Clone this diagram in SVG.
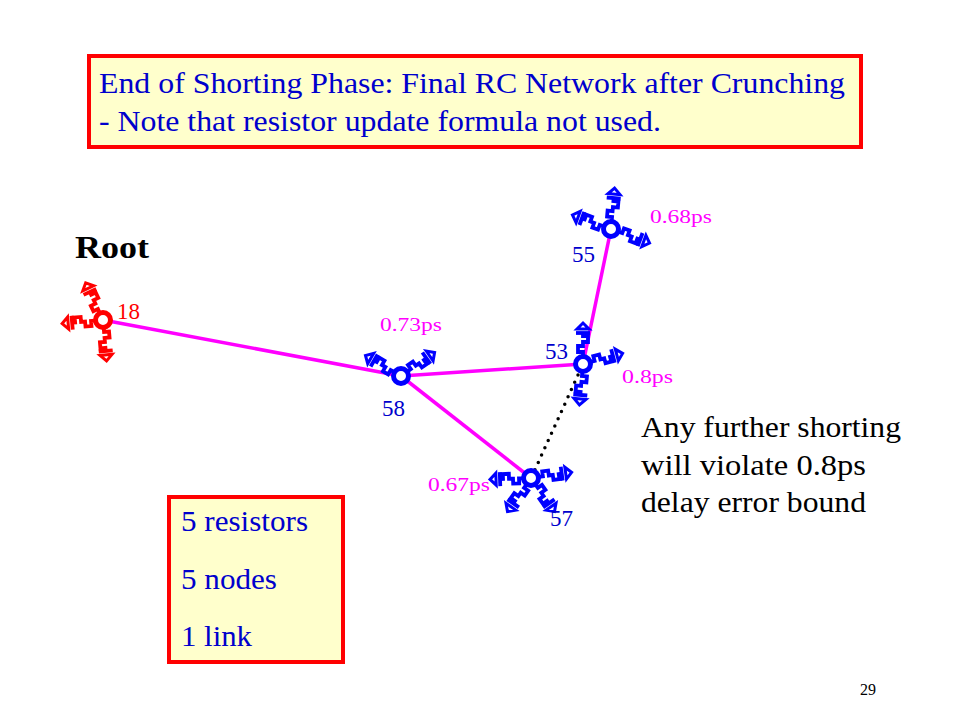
<svg xmlns="http://www.w3.org/2000/svg" xmlns:xlink="http://www.w3.org/1999/xlink" width="960" height="720" viewBox="0 0 960 720">
<style>
.box{fill:#ffffcc;stroke:#ff0000;stroke-width:4}
.bt{font-family:"Liberation Serif","Times New Roman",serif;font-size:30px;fill:#0000cc}
.bk{font-family:"Liberation Serif","Times New Roman",serif;font-size:30px;fill:#000}
.ps{font-family:"Liberation Serif","Times New Roman",serif;font-size:19px;fill:#ff00ff}
.nl{font-family:"Liberation Serif","Times New Roman",serif;font-size:23px;fill:#0000cc}
.edge{stroke:#ff00ff;stroke-width:3.5;fill:none}
.nc{fill:#fff;stroke-width:5}
</style>
<defs>
<g id="br" fill="none" stroke="currentColor" stroke-width="3.8" stroke-linejoin="miter">
<path d="M8,0 L12,0 L12,-5 L18,-5 L18,0 L22,0 L22,5 L28,5 L28,0 L31,0"/>
<line x1="31" y1="-7" x2="31" y2="7"/>
<path d="M35,-6 L35,6 L41,0 Z" stroke-width="3"/>
</g>
</defs>
<rect width="960" height="720" fill="#fff"/>
<g id="title">
<rect class="box" x="89" y="56" width="772" height="91"/>
<text class="bt" x="99" y="93" textLength="746" lengthAdjust="spacingAndGlyphs">End of Shorting Phase: Final RC Network after Crunching</text>
<text class="bt" x="99" y="131" textLength="562" lengthAdjust="spacingAndGlyphs">- Note that resistor update formula not used.</text>
</g>
<g id="connectors">
<line class="edge" x1="103" y1="320" x2="401" y2="376"/>
<line class="edge" x1="401" y1="376" x2="583" y2="364"/>
<line class="edge" x1="401" y1="376" x2="531" y2="478"/>
<line class="edge" x1="583" y1="364" x2="611" y2="229"/>
<line x1="578" y1="375" x2="533" y2="474" stroke="#000" stroke-width="3.5" stroke-linecap="round" stroke-dasharray="0 8"/>
</g>
<g id="root-label"><text x="75" y="258" font-family="Liberation Serif,serif" font-size="32" font-weight="bold" fill="#000" textLength="74" lengthAdjust="spacingAndGlyphs">Root</text></g>
<g id="n18" style="color:#ff0000">
<use xlink:href="#br" transform="translate(103,320) rotate(-115)"/>
<use xlink:href="#br" transform="translate(103,320) rotate(175)"/>
<use xlink:href="#br" transform="translate(103,320) rotate(85)"/>
<circle class="nc" cx="103" cy="320" r="7.5" stroke="#ff0000"/>
<text x="117" y="319" font-family="Liberation Serif,serif" font-size="23" fill="#ff0000">18</text>
</g>
<g id="n58" style="color:#0000ff">
<use xlink:href="#br" transform="translate(401,376) rotate(-150)"/>
<use xlink:href="#br" transform="translate(401,376) rotate(-35)"/>
<circle class="nc" cx="401" cy="376" r="7.5" stroke="#0000ff"/>
<text class="ps" x="380" y="331" textLength="62" lengthAdjust="spacingAndGlyphs">0.73ps</text>
<text class="nl" x="382" y="416">58</text>
</g>
<g id="n53" style="color:#0000ff">
<use xlink:href="#br" transform="translate(583,364) rotate(-90)"/>
<use xlink:href="#br" transform="translate(583,364) rotate(-15)"/>
<use xlink:href="#br" transform="translate(583,364) rotate(95)"/>
<circle class="nc" cx="583" cy="364" r="7.5" stroke="#0000ff"/>
<text class="nl" x="545" y="359">53</text>
<text class="ps" x="622" y="383" textLength="51" lengthAdjust="spacingAndGlyphs">0.8ps</text>
</g>
<g id="n55" style="color:#0000ff">
<use xlink:href="#br" transform="translate(611,229) rotate(-85)"/>
<use xlink:href="#br" transform="translate(611,229) rotate(200)"/>
<use xlink:href="#br" transform="translate(611,229) rotate(20)"/>
<circle class="nc" cx="611" cy="229" r="7.5" stroke="#0000ff"/>
<text class="nl" x="572" y="262">55</text>
<text class="ps" x="650" y="223" textLength="62" lengthAdjust="spacingAndGlyphs">0.68ps</text>
</g>
<g id="n57" style="color:#0000ff">
<use xlink:href="#br" transform="translate(531,478) rotate(178)"/>
<use xlink:href="#br" transform="translate(531,478) rotate(-8)"/>
<use xlink:href="#br" transform="translate(531,478) rotate(125)"/>
<use xlink:href="#br" transform="translate(531,478) rotate(55)"/>
<circle class="nc" cx="531" cy="478" r="7.5" stroke="#0000ff"/>
<text class="ps" x="428" y="491" textLength="62" lengthAdjust="spacingAndGlyphs">0.67ps</text>
<text class="nl" x="550" y="526">57</text>
</g>
<g id="note">
<text class="bk" x="641" y="437" textLength="260" lengthAdjust="spacingAndGlyphs">Any further shorting</text>
<text class="bk" x="641" y="475" textLength="225" lengthAdjust="spacingAndGlyphs">will violate 0.8ps</text>
<text class="bk" x="641" y="512" textLength="225" lengthAdjust="spacingAndGlyphs">delay error bound</text>
</g>
<g id="summary">
<rect class="box" x="169" y="497" width="174" height="165"/>
<text class="bt" x="181" y="531" textLength="127" lengthAdjust="spacingAndGlyphs">5 resistors</text>
<text class="bt" x="181" y="589" textLength="96" lengthAdjust="spacingAndGlyphs">5 nodes</text>
<text class="bt" x="181" y="646" textLength="71" lengthAdjust="spacingAndGlyphs">1 link</text>
</g>
<text x="860" y="695" font-family="Liberation Serif,serif" font-size="16" fill="#000">29</text>
</svg>
